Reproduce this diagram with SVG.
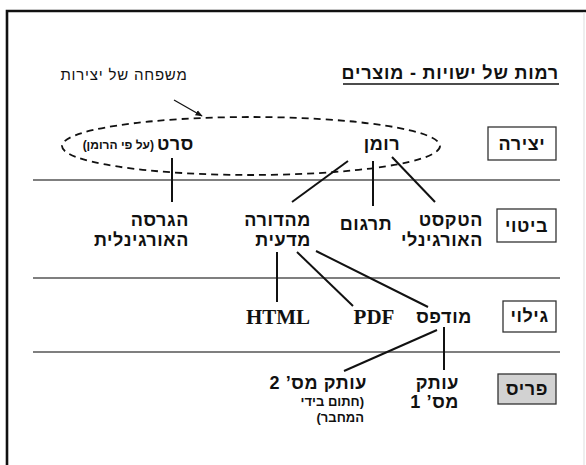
<svg xmlns="http://www.w3.org/2000/svg" width="586" height="465" viewBox="0 0 586 465">
<defs>
<style>
.he{font-family:"Liberation Sans","DejaVu Sans",sans-serif;font-weight:bold;fill:#111;direction:rtl;unicode-bidi:embed;}
.lat{font-family:"Liberation Serif","DejaVu Serif",serif;font-weight:bold;fill:#111;}
.big{font-size:18px;letter-spacing:0.6px;}
.sm{font-size:12px;}
.conn line{stroke:#111;stroke-width:2;}
.rule{stroke:#555;stroke-width:1.3;}
.box{fill:#fff;stroke:#333;stroke-width:1.3;}
</style>
<marker id="ah" viewBox="0 0 10 10" refX="9" refY="5" markerWidth="6" markerHeight="6" orient="auto">
<path d="M0,1 L10,5 L0,9 z" fill="#111"/>
</marker>
</defs>
<rect width="586" height="465" fill="#fff"/>
<g id="frame">
<path d="M7,465 V11 H586" fill="none" stroke="#111" stroke-width="2.6"/>
<line x1="584" y1="12" x2="584" y2="465" stroke="#ddd" stroke-width="1"/>
</g>
<g id="rules">
<line class="rule" x1="33" y1="180" x2="560" y2="180"/>
<line class="rule" x1="33" y1="278" x2="560" y2="278"/>
<line class="rule" x1="33" y1="352" x2="560" y2="352"/>
</g>
<g id="title">
<text class="he" x="559" y="79" font-size="18" letter-spacing="0.8" text-anchor="start">רמות של ישויות - מוצרים</text>
<line x1="343" y1="84" x2="559" y2="84" stroke="#111" stroke-width="1.5"/>
</g>
<g id="family">
<text x="124" y="80" font-family="Liberation Sans, DejaVu Sans, sans-serif" font-size="15" letter-spacing="0.8" fill="#111" direction="rtl" text-anchor="middle">משפחה של יצירות</text>
<ellipse cx="251" cy="146" rx="189" ry="29" fill="none" stroke="#111" stroke-width="1.8" stroke-dasharray="7 5"/>
<line x1="174" y1="100" x2="202" y2="116" stroke="#111" stroke-width="1.2" marker-end="url(#ah)"/>
</g>
<g id="level-yetzira">
<rect class="box" x="488" y="127" width="68" height="33"/>
<text class="he big" x="522" y="150" text-anchor="middle">יצירה</text>
</g>
<g id="level-bitui">
<rect class="box" x="497" y="209" width="59" height="33"/>
<text class="he big" x="526.5" y="232" text-anchor="middle">ביטוי</text>
</g>
<g id="level-giluy">
<rect class="box" x="503" y="301" width="53" height="31"/>
<text class="he big" x="529.5" y="322" text-anchor="middle">גילוי</text>
</g>
<g id="level-pris">
<rect x="498" y="374" width="58" height="30" fill="#d2d2d2" stroke="#333" stroke-width="1.3"/>
<text class="he big" x="527" y="395" text-anchor="middle">פריס</text>
</g>
<g id="node-seret">
<text class="he big" x="194" y="150" text-anchor="start">סרט</text>
<text class="he sm" x="154" y="149" text-anchor="start">(על פי הרומן)</text>
</g>
<g id="node-roman">
<text class="he big" x="382" y="150" text-anchor="middle">רומן</text>
</g>
<g id="node-girsa">
<text class="he big" x="189" y="226" text-anchor="start">הגרסה</text>
<text class="he big" x="189" y="246" text-anchor="start">האורגינלית</text>
</g>
<g id="node-mahadura">
<text class="he big" x="311" y="226" text-anchor="start">מהדורה</text>
<text class="he big" x="311" y="246" text-anchor="start">מדעית</text>
</g>
<g id="node-targum">
<text class="he big" x="366" y="230" text-anchor="middle">תרגום</text>
</g>
<g id="node-text">
<text class="he big" x="483" y="226" text-anchor="start">הטקסט</text>
<text class="he big" x="483" y="246" text-anchor="start">האורגינלי</text>
</g>
<g id="node-html">
<text class="lat" font-size="21" x="278" y="324" text-anchor="middle">HTML</text>
</g>
<g id="node-pdf">
<text class="lat" font-size="21" x="374" y="324" text-anchor="middle">PDF</text>
</g>
<g id="node-mudpas">
<text class="he big" x="444" y="323" text-anchor="middle">מודפס</text>
</g>
<g id="node-copy2">
<text class="he big" x="367" y="389" text-anchor="start">עותק מס’ 2</text>
<text class="he" font-size="13" x="364" y="406" text-anchor="start">(חתום בידי</text>
<text class="he" font-size="13" x="364" y="422" text-anchor="start">המחבר)</text>
</g>
<g id="node-copy1">
<text class="he big" x="459" y="389" text-anchor="start">עותק</text>
<text class="he big" x="459" y="408" text-anchor="start">מס’ 1</text>
</g>
<g id="connectors" class="conn">
<line x1="172" y1="158" x2="172" y2="202"/>
<line x1="348" y1="161" x2="292" y2="202"/>
<line x1="373" y1="161" x2="373" y2="206"/>
<line x1="392" y1="157" x2="435" y2="202"/>
<line x1="277" y1="252" x2="277" y2="302"/>
<line x1="297" y1="252" x2="353" y2="306"/>
<line x1="316" y1="251" x2="428" y2="307"/>
<line x1="437" y1="330" x2="344" y2="371"/>
<line x1="444" y1="327" x2="444" y2="370"/>
</g>
</svg>
